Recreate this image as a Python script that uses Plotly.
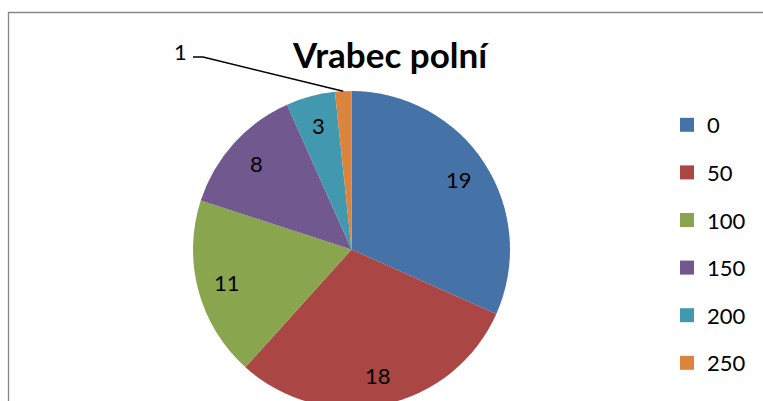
import math
import plotly.graph_objects as go

# ---- data ----
title_text = "Vrabec polní"
categories = ["0", "50", "100", "150", "200", "250"]
counts = [19, 18, 11, 8, 3, 1]
colors = ["#4572A7", "#AA4643", "#89A54E", "#71588F", "#4198AF", "#DB843D"]

# ---- layout helpers (pixels -> paper) ----
W, H = 763, 430
FONT = "Lato, Carlito, Calibri, sans-serif"


def px_x(p):
    return p / W


def px_y(p):
    return 1 - p / H


pie_left, pie_right, pie_top, pie_bottom = 193, 510, 91, 408
cx = (pie_left + pie_right) / 2
cy = (pie_top + pie_bottom) / 2
R = (pie_right - pie_left) / 2
label_r = 0.81 * R

fig = go.Figure()
fig.add_trace(go.Pie(
    labels=categories, values=counts, sort=False, direction="clockwise", rotation=0,
    marker=dict(colors=colors, line=dict(width=0)),
    textinfo="none",
    showlegend=False,
    domain=dict(x=[px_x(pie_left), px_x(pie_right)], y=[px_y(pie_bottom), px_y(pie_top)]),
    hoverinfo="label+value",
))

# legend entries (one group per category for spacing)
for cat, col in zip(categories, colors):
    fig.add_trace(go.Scatter(
        x=[None], y=[None], mode="markers", name=cat, legendgroup=cat,
        marker=dict(symbol="square", size=14, color=col), hoverinfo="skip",
    ))

# data labels at each slice's mid-angle
total = sum(counts)
cum = 0
for i, v in enumerate(counts):
    mid = (cum + v / 2) / total * 2 * math.pi
    cum += v
    if i == len(counts) - 1:
        # smallest slice: label outside with a leader line
        tip_x = cx + R * math.sin(mid)
        tip_y = cy - R * math.cos(mid)
        label_x, label_y = 180.5, 51
        start, knee = (193, 57), (203, 57)
        path = "M {} {} L {} {} L {} {}".format(
            px_x(start[0]), px_y(start[1]), px_x(knee[0]), px_y(knee[1]),
            px_x(tip_x), px_y(tip_y))
        fig.add_shape(type="path", path=path, xref="paper", yref="paper",
                      line=dict(color="black", width=1.5))
    else:
        label_x = cx + label_r * math.sin(mid)
        label_y = cy - label_r * math.cos(mid)
    fig.add_annotation(x=px_x(label_x), y=px_y(label_y), xref="paper", yref="paper",
                       xanchor="center", yanchor="middle",
                       text=str(v), showarrow=False,
                       font=dict(family=FONT, size=22, color="black"))

# chart frame
fig.add_shape(type="rect", xref="paper", yref="paper",
              x0=px_x(8.5), x1=1.05, y0=-0.05, y1=px_y(12.5),
              line=dict(color="#878787", width=1.3), fillcolor="rgba(0,0,0,0)")

fig.update_layout(
    width=W, height=H,
    margin=dict(l=0, r=0, t=0, b=0),
    paper_bgcolor="white", plot_bgcolor="white",
    title=dict(text="<b>" + title_text + "</b>", x=px_x(390), y=px_y(56),
               xanchor="center", yanchor="middle", xref="paper", yref="container",
               font=dict(family=FONT, size=35, color="black")),
    xaxis=dict(visible=False), yaxis=dict(visible=False),
    showlegend=True,
    legend=dict(x=px_x(667), y=px_y(104), xanchor="left", yanchor="top",
                font=dict(family=FONT, size=22, color="black"),
                tracegroupgap=16, bgcolor="rgba(0,0,0,0)"),
)

fig.write_html(
    "out.html",
    config={"displayModeBar": False},
    post_script="document.body.style.margin='0';document.body.style.overflow='hidden';",
)
